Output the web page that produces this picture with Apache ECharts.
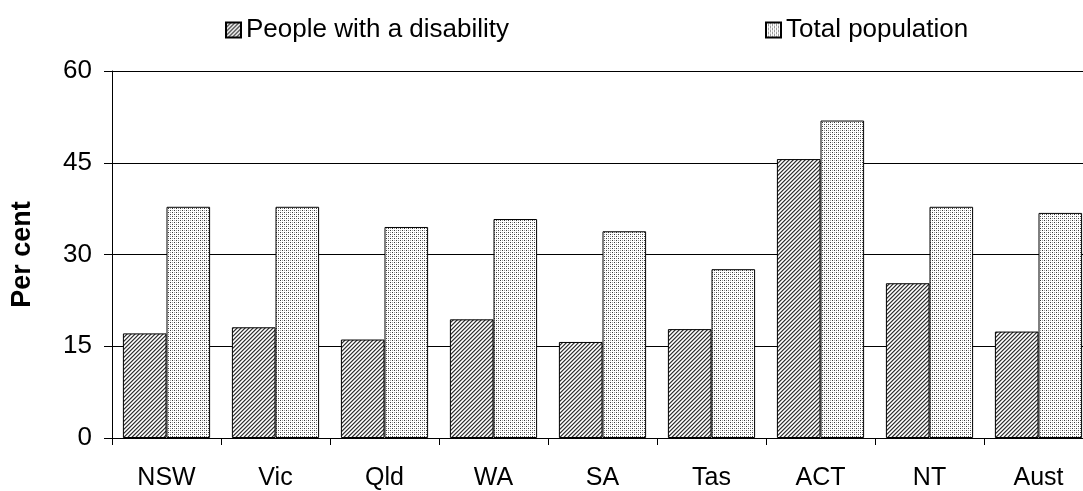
<!DOCTYPE html>
<html>
<head>
<meta charset="utf-8">
<style>
  html, body { margin: 0; padding: 0; background: #fff; }
  #chart { width: 1083px; height: 491px; }
</style>
<script src="https://cdn.jsdelivr.net/npm/echarts@6/dist/echarts.min.js"></script>
</head>
<body>
<div id="chart"></div>
<script>
// Share of people with a bachelor degree or higher, by state/territory
const categories = ['NSW', 'Vic', 'Qld', 'WA', 'SA', 'Tas', 'ACT', 'NT', 'Aust'];
const disabilityValues = [17.1, 18.1, 16.1, 19.4, 15.7, 17.8, 45.6, 25.3, 17.4];
const totalValues = [37.8, 37.8, 34.5, 35.8, 33.8, 27.6, 51.9, 37.8, 36.8];
const yTicks = [0, 15, 30, 45, 60];
const seriesNames = ['People with a disability', 'Total population'];

const FONT = '"Liberation Sans", Arial, sans-serif';

// Small repeating tiles used as bar fills
function makeTile(size, pixelFn) {
  const c = document.createElement('canvas');
  c.width = size; c.height = size;
  const ctx = c.getContext('2d');
  ctx.fillStyle = '#ffffff';
  ctx.fillRect(0, 0, size, size);
  for (let y = 0; y < size; y++) {
    for (let x = 0; x < size; x++) {
      const col = pixelFn(x, y);
      if (col) { ctx.fillStyle = col; ctx.fillRect(x, y, 1, 1); }
    }
  }
  return c;
}

// diagonal hatching (/)
const hatchTile = makeTile(4, (x, y) => {
  const k = (x + y) % 4;
  return ['#333333', '#9a9a9a', null, '#d0d0d0'][k];
});
// fine dots
const dotTile = makeTile(4, (x, y) => {
  if (x === 0 && y === 0) return '#3a3a3a';
  if (x === 2 && y === 2) return '#3a3a3a';
  if ((x === 2 && y === 0) || (x === 0 && y === 2)) return '#a0a0a0';
  return null;
});

const chart = echarts.init(document.getElementById('chart'), null, { renderer: 'canvas' });

const legendText = { fontFamily: FONT, fontSize: 26, color: '#000' };

chart.setOption({
  animation: false,
  backgroundColor: '#fff',
  textStyle: { fontFamily: FONT },
  legend: [
    {
      data: [seriesNames[0]], left: 220, top: 12,
      icon: 'rect', itemWidth: 15, itemHeight: 15, itemGap: 0,
      textStyle: legendText
    },
    {
      data: [seriesNames[1]], left: 760, top: 12,
      icon: 'rect', itemWidth: 15, itemHeight: 15, itemGap: 0,
      textStyle: legendText
    }
  ],
  // plot area runs past the right edge of the page
  grid: {
    left: 112, width: 981, top: 71, bottom: 53,
    containLabel: false, outerBoundsMode: 'none'
  },
  xAxis: {
    type: 'category',
    data: categories,
    boundaryGap: true,
    axisLine: { show: true, lineStyle: { color: '#000', width: 1 } },
    axisTick: { show: true, length: 7, lineStyle: { color: '#000' } },
    axisLabel: { color: '#000', fontSize: 25, fontFamily: FONT, margin: 28 },
    splitLine: { show: false }
  },
  yAxis: {
    type: 'value',
    min: yTicks[0],
    max: yTicks[yTicks.length - 1],
    interval: yTicks[1] - yTicks[0],
    name: 'Per cent',
    nameLocation: 'middle',
    nameGap: 76,
    nameRotate: 90,
    nameTextStyle: { color: '#000', fontSize: 27, fontWeight: 'bold', fontFamily: FONT },
    axisLine: { show: true, lineStyle: { color: '#000', width: 1 } },
    axisTick: { show: true, length: 8, lineStyle: { color: '#000' } },
    axisLabel: { color: '#000', fontSize: 26, fontFamily: FONT, margin: 20 },
    splitLine: { show: true, lineStyle: { color: '#000', width: 1 } }
  },
  series: [
    {
      name: seriesNames[0],
      type: 'bar',
      data: disabilityValues,
      barGap: '0%',
      barCategoryGap: '20%',
      itemStyle: {
        color: { image: hatchTile, repeat: 'repeat' },
        borderColor: '#000',
        borderWidth: 1
      }
    },
    {
      name: seriesNames[1],
      type: 'bar',
      data: totalValues,
      barGap: '0%',
      barCategoryGap: '20%',
      itemStyle: {
        color: { image: dotTile, repeat: 'repeat' },
        borderColor: '#000',
        borderWidth: 1
      }
    }
  ]
});
</script>
</body>
</html>
